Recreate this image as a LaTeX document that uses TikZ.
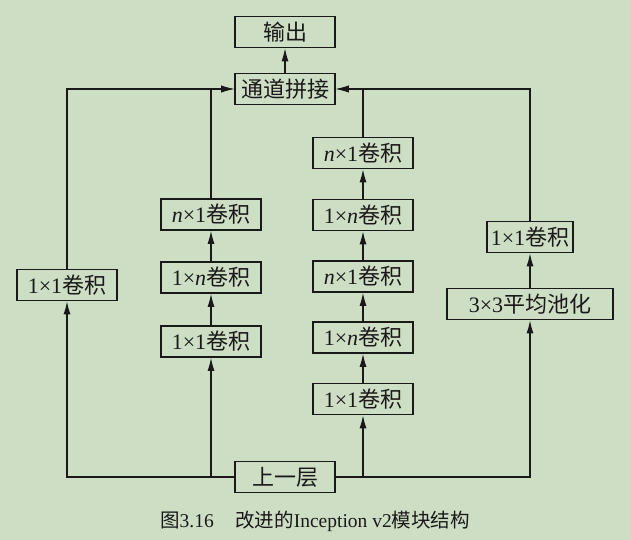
\documentclass[tikz,border=0pt]{standalone}
\usepackage{fontspec}
\setmainfont{Liberation Serif}
\newfontfamily\cjk{Noto Sans CJK SC}
\usetikzlibrary{arrows.meta}
\definecolor{bg}{RGB}{205,222,197}
\definecolor{ink}{RGB}{25,25,25}
\tikzset{
  box/.style={draw=ink, line width=1.6pt, minimum height=31pt, inner sep=0pt, text=ink, font=\fontsize{22}{24}\selectfont},
  wbox/.style={box, minimum width=100pt},
  conn/.style={draw=ink, line width=1.2pt, -{Latex[length=13pt,width=7pt]}},
}
\newcommand{\zh}[1]{{\cjk #1}}
\begin{document}
\begin{tikzpicture}[x=1pt,y=-1pt]
\fill[bg] (0,0) rectangle (631,540);
\useasboundingbox (0,0) rectangle (631,540);
\node[wbox] (out) at (285,32) {\zh{输出}};
\node[wbox] (cat) at (285,89) {\zh{通道拼接}};
\node[wbox] (b1) at (67,285) {1×1\zh{卷积}};
\node[wbox] (b2c) at (211,214.5) {\textit{n}×1\zh{卷积}};
\node[wbox] (b2b) at (211,277.5) {1×\textit{n}\zh{卷积}};
\node[wbox] (b2a) at (211,341.5) {1×1\zh{卷积}};
\node[wbox] (b3e) at (363,153) {\textit{n}×1\zh{卷积}};
\node[wbox] (b3d) at (363,215) {1×\textit{n}\zh{卷积}};
\node[wbox] (b3c) at (363,276.5) {\textit{n}×1\zh{卷积}};
\node[wbox] (b3b) at (363,337.5) {1×\textit{n}\zh{卷积}};
\node[wbox] (b3a) at (363,399) {1×1\zh{卷积}};
\node[box, minimum width=86pt] (b4b) at (530,237) {1×1\zh{卷积}};
\node[box, minimum width=166pt] (b4a) at (530,304) {3×3\zh{平均池化}};
\node[wbox] (prev) at (285,477) {\zh{上一层}};
\node[text=ink, font=\fontsize{19.5}{21}\selectfont] (cap) at (315,521) {\zh{图}3.16\hspace{1.1em}\zh{改进的}Inception v2\zh{模块结构}};
% output
\draw[conn] (cat.north) -- (out.south);
% bottom connections
\draw[conn] (prev.west) -| (b1.south);
\draw[conn] (prev.west) -| (b2a.south);
\draw[conn] (prev.east) -| (b3a.south);
\draw[conn] (prev.east) -| (b4a.south);
% chains
\draw[conn] (b2a.north) -- (b2b.south);
\draw[conn] (b2b.north) -- (b2c.south);
\draw[conn] (b3a.north) -- (b3b.south);
\draw[conn] (b3b.north) -- (b3c.south);
\draw[conn] (b3c.north) -- (b3d.south);
\draw[conn] (b3d.north) -- (b3e.south);
\draw[conn] (b4a.north) -- (b4b.south);
% to concat
\draw[conn] (b1.north) |- (cat.west);
\draw[conn] (b2c.north) |- (cat.west);
\draw[conn] (b3e.north) |- (cat.east);
\draw[conn] (b4b.north) |- (cat.east);
\end{tikzpicture}
\end{document}
